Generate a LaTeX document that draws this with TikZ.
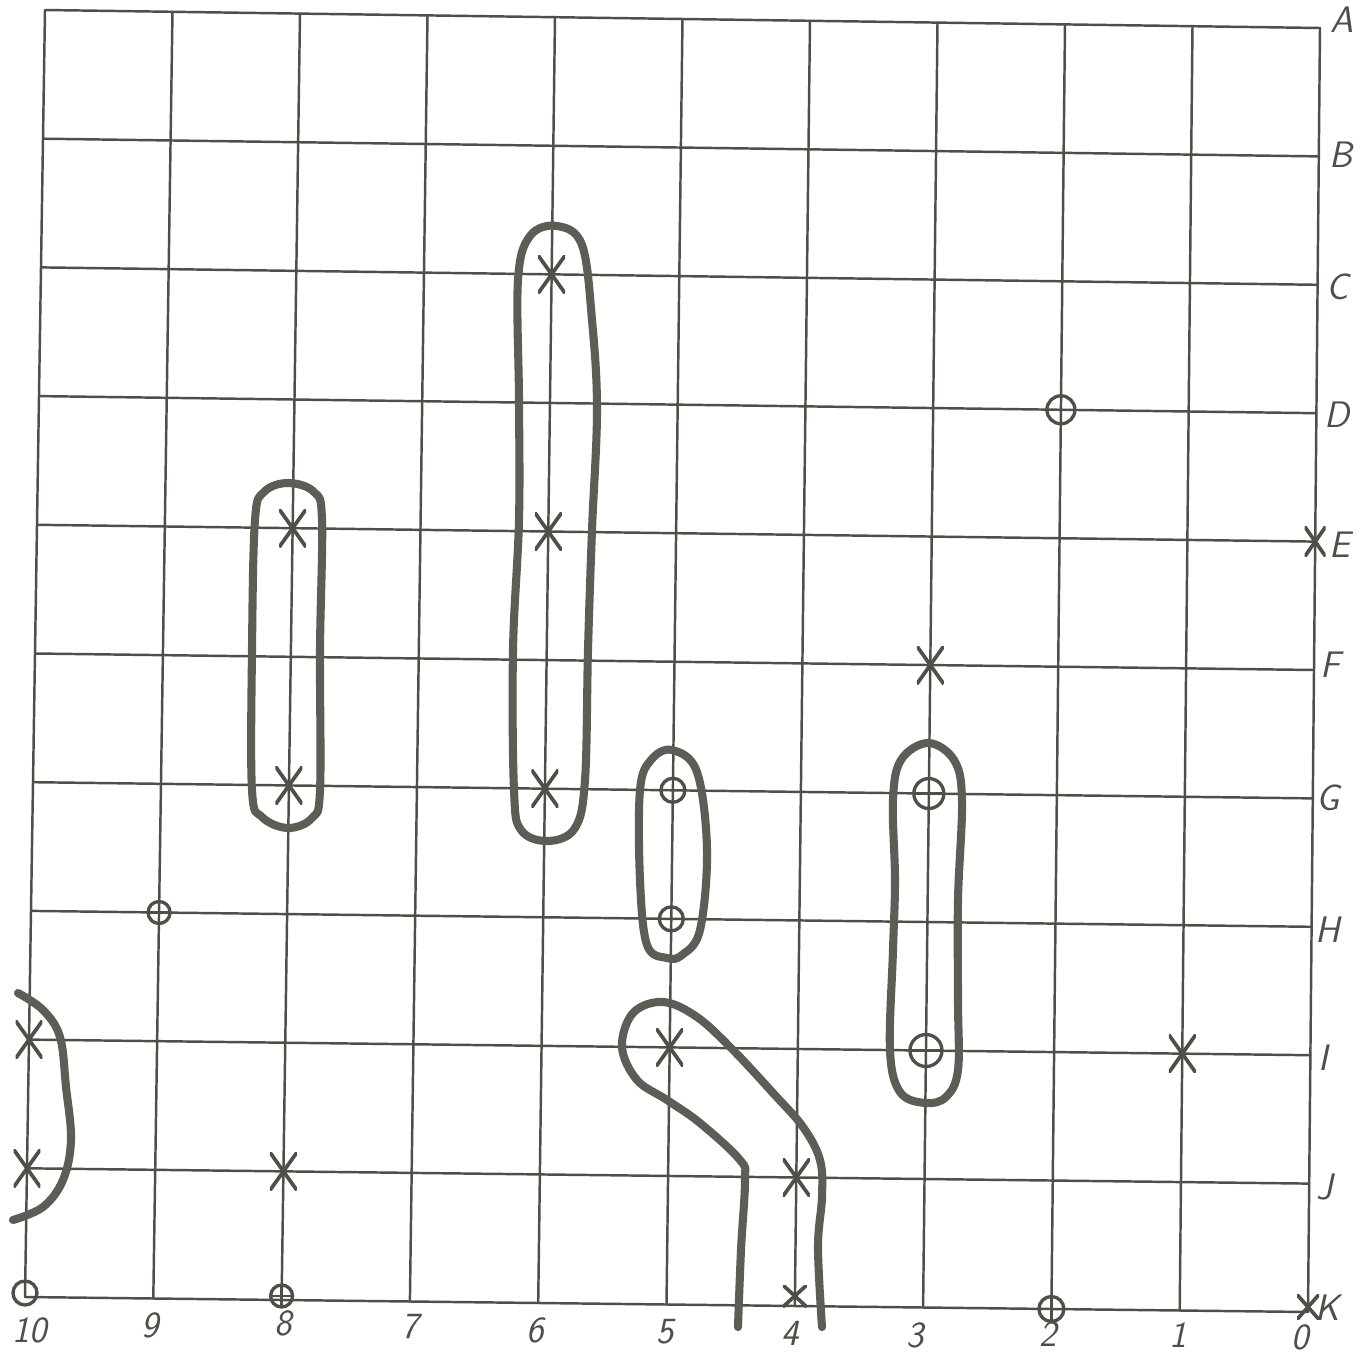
\documentclass[tikz,border=0pt]{standalone}
\definecolor{ink}{RGB}{78,80,72}
\definecolor{heavy}{RGB}{92,94,86}
\begin{document}
\begin{tikzpicture}[x=0.02cm,y=-0.02cm,
  gridline/.style={draw=ink,line width=1.4pt,line cap=round},
  loopline/.style={draw=heavy,line width=4.6pt,line cap=round,line join=round},
  lbl/.style={text=ink,font=\fontsize{21}{23}\selectfont\sffamily\slshape,inner sep=0pt},
  xm/.style={shape=rectangle,inner sep=0pt,minimum width=0.54cm,minimum height=0.76cm,
    path picture={\draw[ink,line width=2.1pt]
      (path picture bounding box.north west) -- (path picture bounding box.south east)
      (path picture bounding box.north east) -- (path picture bounding box.south west);}},
  cp/.style={shape=circle,draw=ink,line width=1.9pt,inner sep=0pt,minimum size=#1,
    path picture={\draw[ink,line width=1.3pt]
      (path picture bounding box.north) -- (path picture bounding box.south)
      (path picture bounding box.west) -- (path picture bounding box.east);}},
  cp/.default=0.5cm]
\useasboundingbox[fill=white] (0,0) rectangle (1357,1355);

% grid intersections (hand drawn, slightly skewed)
\foreach \c in {0,...,10}{\foreach \r in {0,...,10}{
  \pgfmathsetmacro\X{45+127.5*\c+\r*(-2+0.08*\c)}
  \pgfmathsetmacro\Y{10+1.8*\c+128.7*\r-0.03*\c*\r}
  \coordinate (p\c-\r) at (\X,\Y);}}

\foreach \c in {0,...,10}{\draw[gridline] (p\c-0) -- (p\c-10);}
\foreach \r in {0,...,10}{\draw[gridline] (p0-\r) -- (p10-\r);}

% row labels
\node[lbl] (lA) at (1342,20) {A};
\node[lbl] (lB) at (1341,155) {B};
\node[lbl] (lC) at (1338,287) {C};
\node[lbl] (lD) at (1337,415) {D};
\node[lbl] (lE) at (1340,545) {E};
\node[lbl] (lF) at (1330,665) {F};
\node[lbl] (lG) at (1328,798) {G};
\node[lbl] (lH) at (1328,930) {H};
\node[lbl] (lI) at (1323,1058) {I};
\node[lbl] (lJ) at (1325,1187) {J};
\node[lbl] (lK) at (1328,1308) {K};
% column labels
\node[lbl] (n10) at (30,1330) {10};
\node[lbl] (n9) at (150,1325) {9};
\node[lbl] (n8) at (283,1323) {8};
\node[lbl] (n7) at (410,1327) {7};
\node[lbl] (n6) at (535,1330) {6};
\node[lbl] (n5) at (665,1332) {5};
\node[lbl] (n4) at (790,1333) {4};
\node[lbl] (n3) at (915,1335) {3};
\node[lbl] (n2) at (1048,1334) {2};
\node[lbl] (n1) at (1178,1335) {1};
\node[lbl] (n0) at (1300,1337) {0};

% loops
\draw[loopline] plot[smooth cycle,tension=0.6] coordinates {
  (288,483) (314,492) (322,520) (320,650) (320,790) (312,818) (288,828)
  (262,817) (252,790) (252,650) (255,520) (264,492)};
\draw[loopline] plot[smooth cycle,tension=0.6] coordinates {
  (557,226) (582,245) (592,320) (597,410) (592,530) (588,650) (585,780)
  (575,828) (548,841) (521,830) (514,790) (513,650) (519,520) (519,400)
  (518,280) (530,236)};
\draw[loopline] plot[smooth cycle,tension=0.6] coordinates {
  (672,750) (697,772) (707,850) (700,930) (682,955) (667,958)
  (647,945) (640,880) (640,790) (651,760)};
\draw[loopline] plot[smooth cycle,tension=0.6] coordinates {
  (928,743) (954,760) (962,800) (958,900) (958,1000) (958,1070) (946,1097)
  (925,1103) (900,1092) (890,1050) (893,950) (895,880) (893,800) (901,760)};
\draw[loopline] plot[smooth,tension=0.6] coordinates {
  (738,1327) (741,1250) (745,1180) (740,1160) (700,1123) (667,1100)
  (637,1080) (622,1047) (633,1013) (663,1002) (697,1017) (733,1050)
  (773,1093) (803,1127) (820,1160) (822,1197) (818,1247) (822,1327)};
\draw[loopline] plot[smooth,tension=0.6] coordinates {
  (18,993) (43,1010) (60,1037) (66,1087) (71,1140) (63,1180) (43,1207) (13,1220)};

% crosses
\node[xm] (xC6) at (p4-2) {};
\node[xm] (xE6) at (p4-4) {};
\node[xm] (xG6) at (p4-6) {};
\node[xm] (xE8) at (p2-4) {};
\node[xm] (xG8) at (p2-6) {};
\node[xm] (xJ8) at (p2-9) {};
\node[xm] (xI10) at (p0-8) {};
\node[xm] (xJ10) at (p0-9) {};
\node[xm] (xI5) at (p5-8) {};
\node[xm] (xJ4) at (p6-9) {};
\node[xm] (xF3) at (p7-5) {};
\node[xm] (xI1) at (p9-8) {};
\node[xm,minimum width=0.42cm,minimum height=0.6cm] (xE0) at (p10-4) {};
\node[xm,minimum width=0.48cm,minimum height=0.44cm] (xK4) at ([yshift=0.2cm]p6-10) {};
\node[xm,minimum width=0.44cm,minimum height=0.5cm] (xK0) at ([yshift=0.1cm]p10-10) {};

% circled points
\node[cp=0.56cm] (oD2) at (p8-3) {};
\node[cp=0.6cm] (oG3) at (p7-6) {};
\node[cp=0.64cm] (oI3) at (p7-8) {};
\node[cp=0.48cm] (oG5) at (p5-6) {};
\node[cp=0.48cm] (oH5) at (p5-7) {};
\node[cp=0.44cm] (oH9) at (p1-7) {};
\node[cp=0.44cm] (oK8) at ([yshift=0.08cm]p2-10) {};
\node[cp=0.5cm] (oK2) at (p8-10) {};
\node[circle,draw=ink,line width=1.9pt,inner sep=0pt,minimum size=0.48cm] (oK10) at ([yshift=0.08cm]p0-10) {};
\end{tikzpicture}
\end{document}
